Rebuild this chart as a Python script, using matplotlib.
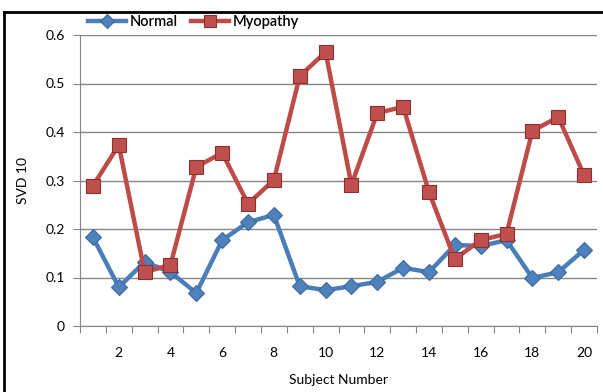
import matplotlib as mpl
import matplotlib.pyplot as plt
from matplotlib.lines import Line2D

mpl.rc('font', family=['Lato', 'DejaVu Sans'])

subjects = list(range(1, 21))
normal = [0.183, 0.080, 0.132, 0.111, 0.068, 0.177, 0.214, 0.229, 0.082, 0.074,
          0.082, 0.091, 0.120, 0.111, 0.167, 0.165, 0.177, 0.099, 0.111, 0.157]
myopathy = [0.289, 0.373, 0.111, 0.126, 0.328, 0.357, 0.252, 0.301, 0.515, 0.565,
            0.291, 0.439, 0.452, 0.276, 0.138, 0.177, 0.190, 0.402, 0.431, 0.311]
xtick_labels = ['2', '4', '6', '8', '10', '12', '14', '16', '18', '20']
yticks = [0, 0.1, 0.2, 0.3, 0.4, 0.5, 0.6]

fig = plt.figure(figsize=(6.03, 3.92), dpi=100)
ax = fig.add_axes([80 / 603, 66 / 392, 517 / 603, 291 / 392])

ax.plot(subjects, normal, color='#4A7EBB', lw=3.2, marker='D', ms=8,
        mfc='#4F81BD', mec='#3A6A9E', mew=0.8, label='Normal', zorder=3)
ax.plot(subjects, myopathy, color='#BE4B48', lw=3.2, marker='s', ms=10.5,
        mfc='#C0504D', mec='#8C2F2D', mew=0.8, label='Myopathy', zorder=3)

ax.set_xlim(0.5, 20.5)
ax.set_ylim(0, 0.6)
ax.set_yticks(yticks)
ax.set_yticklabels(['0', '0.1', '0.2', '0.3', '0.4', '0.5', '0.6'])
ax.set_xticks([i + 0.5 for i in range(0, 21)])
ax.set_xticklabels([])
ax.set_xticks(range(2, 21, 2), minor=True)
ax.set_xticklabels(xtick_labels, minor=True)
ax.tick_params(axis='x', which='minor', length=0, pad=15, labelsize=10)
ax.tick_params(axis='x', which='major', length=5, color='#868686', direction='out')
ax.tick_params(axis='y', length=5, color='#868686', labelsize=10, pad=6)

ax.grid(axis='y', color='#868686', lw=1)
ax.set_axisbelow(True)
for s in ['top', 'right']:
    ax.spines[s].set_visible(False)
for s in ['left', 'bottom']:
    ax.spines[s].set_color('#868686')

ax.set_ylabel('SVD 10', fontsize=10, labelpad=12)
ax.set_xlabel('Subject Number', fontsize=10, labelpad=11)

ax.legend(loc='center left', bbox_to_anchor=(0.016, 1.045), ncol=2, frameon=False,
          prop={'size': 10.5, 'weight': 'semibold'}, handlelength=2.6,
          columnspacing=0.9, borderaxespad=0, borderpad=0, handletextpad=0.25,
          markerscale=0.85)

# frame lines at the left and top of the picture
fig.add_artist(Line2D([4 / 603, 4 / 603], [0, 1 - 12 / 392], color='black', lw=2))
fig.add_artist(Line2D([4 / 603, 1], [1 - 12 / 392, 1 - 12 / 392], color='black', lw=2))

plt.savefig('out.png')
